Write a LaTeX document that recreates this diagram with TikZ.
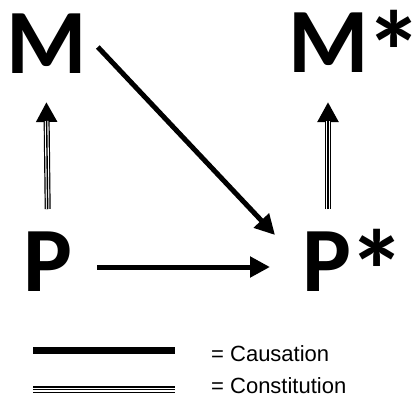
\documentclass[tikz,border=0pt]{standalone}
\usepackage{fontspec}
\setmainfont{Carlito}
\newfontfamily\legendfont{Liberation Sans}
\usetikzlibrary{arrows.meta,calc}
\newcommand{\bigstar}{\kern-3pt\raisebox{-20pt}{\scalebox{1.25}{*}}}
\tikzset{
  big/.style={inner sep=0pt, anchor=base west, font=\fontsize{92}{100}\selectfont\bfseries},
  leg/.style={inner sep=0pt, anchor=base west, font=\legendfont\fontsize{22}{26}\selectfont},
  cause/.style={draw=black, line width=5pt, -{Triangle[length=20pt,width=20pt]}},
  constit/.style={draw=black, line width=6pt, -{Triangle[length=20pt,width=20pt]},
    postaction={draw=white, line width=3.6pt, -, shorten >=19pt},
    postaction={draw=black, line width=1.4pt, -, shorten >=19pt}},
  causeleg/.style={draw=black, line width=7pt},
  constleg/.style={draw=black, line width=7pt,
    postaction={draw=white, line width=4pt},
    postaction={draw=black, line width=1.6pt}},
}
\begin{document}
\begin{tikzpicture}[x=1pt,y=-1pt]
  \useasboundingbox (0,0) rectangle (412,397);
  % the four states
  \node[big] (M) at (6,73) {M};
  \node[big] (Mstar) at (288,72) {M\bigstar};
  \node[big] (P) at (23,291) {P};
  \node[big] (Pstar) at (302,291) {P\bigstar};
  % constitution
  \draw[constit] ([yshift=82pt]P.base) -- ([yshift=-29pt]M.base);
  \draw[constit] ([xshift=26pt,yshift=82pt]Pstar.base west) -- ([xshift=40pt,yshift=-30pt]Mstar.base west);
  % causation
  \draw[cause] ([xshift=11pt,yshift=26pt]M.base east) -- ([xshift=-27pt,yshift=56pt]Pstar.base west);
  \draw[cause] ([xshift=74pt,yshift=24pt]P.base west) -- ([xshift=-32pt,yshift=24pt]Pstar.base west);
  % legend
  \node[leg] (causlab) at (211,361.5) {= Causation};
  \node[leg] (constlab) at (211,393) {= Constitution};
  \coordinate (c1) at (33,350.5);
  \coordinate (c2) at (175,350.5);
  \coordinate (k1) at (33,389.5);
  \coordinate (k2) at (175,389.5);
  \draw[causeleg] (c1) -- (c2);
  \draw[constleg] (k1) -- (k2);
\end{tikzpicture}
\end{document}
